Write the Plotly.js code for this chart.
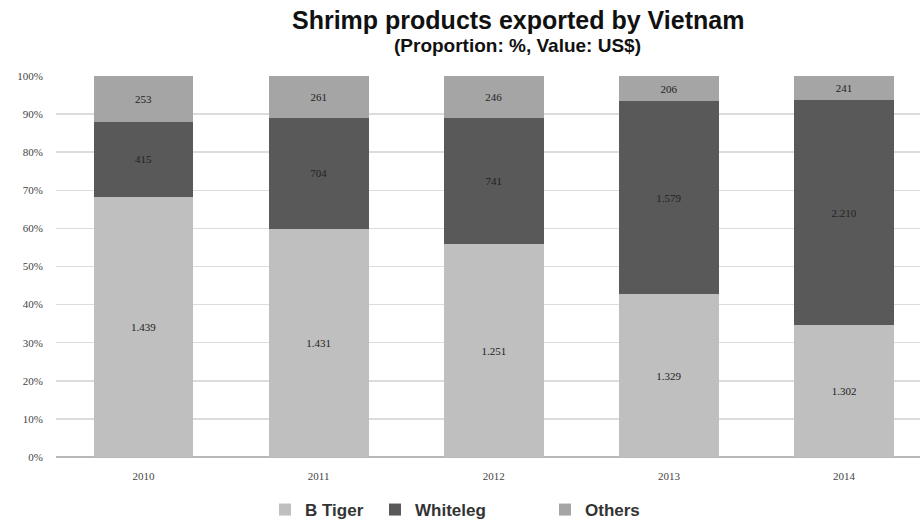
<!DOCTYPE html>
<html>
<head>
<meta charset="utf-8">
<script src="https://cdn.plot.ly/plotly-3.0.1.min.js"></script>
<style>html,body{margin:0;padding:0;background:#fff;}#chart{width:920px;height:521px;}</style>
</head>
<body>
<div id="chart"></div>
<script>
const years = ['2010', '2011', '2012', '2013', '2014'];
const bTiger = [1439, 1431, 1251, 1329, 1302];
const whiteleg = [415, 704, 741, 1579, 2210];
const others = [253, 261, 246, 206, 241];
const seriesNames = ['B Tiger', 'Whiteleg', 'Others'];
const seriesColors = ['#bfbfbf', '#595959', '#a5a5a5'];

function fmt(v) {
  const s = String(v);
  return s.length > 3 ? s.slice(0, s.length - 3) + '.' + s.slice(s.length - 3) : s;
}

const serif = 'Liberation Serif, DejaVu Serif, serif';
const legendIds = ['legend', 'legend2', 'legend3'];
const traces = [bTiger, whiteleg, others].map((vals, i) => ({
  type: 'bar',
  name: seriesNames[i],
  legend: legendIds[i],
  x: years,
  y: vals,
  text: vals.map(fmt),
  textposition: 'inside',
  insidetextanchor: 'middle',
  textangle: 0,
  textfont: {family: serif, size: 11, color: '#222'},
  marker: {color: seriesColors[i], line: {width: 0}},
  hoverinfo: 'skip'
}));

const legendFont = {family: 'Liberation Sans, Arial, sans-serif', size: 17, color: '#333', weight: 'bold'};
function leg(xp) {
  return {orientation: 'h', x: (xp - 56) / 864, xanchor: 'left', y: (457 - 510) / 381, yanchor: 'middle',
    font: legendFont, itemwidth: 30, bgcolor: 'rgba(0,0,0,0)'};
}

const layout = {
  width: 920, height: 521,
  margin: {l: 56, r: 0, t: 76, b: 64, autoexpand: false},
  paper_bgcolor: '#fff', plot_bgcolor: '#fff',
  barmode: 'stack', barnorm: 'percent', bargap: 0.43,
  showlegend: true,
  legend: leg(265),
  legend2: leg(375),
  legend3: leg(545),
  xaxis: {type: 'category', range: [-0.5, 4.434], showgrid: false, zeroline: false,
    showline: false, ticks: '', ticklabelstandoff: 11,
    tickfont: {family: serif, size: 11, color: '#444'}, fixedrange: true},
  yaxis: {range: [0, 100], dtick: 10, ticksuffix: '%', showgrid: true, gridcolor: '#dcdcdc', gridwidth: 1.5,
    zeroline: true, zerolinecolor: '#b8b8b8', zerolinewidth: 1.5, showline: false, ticks: '',
    ticklabelstandoff: 12, tickfont: {family: serif, size: 11, color: '#444'}, fixedrange: true},
  annotations: [
    {text: '<b>Shrimp products exported by Vietnam</b>', xref: 'paper', yref: 'paper',
     x: (518 - 56) / 864, y: 1, yshift: 56, xanchor: 'center', yanchor: 'middle', showarrow: false,
     font: {family: 'Liberation Sans, Arial, sans-serif', size: 25, color: '#111'}},
    {text: '<b>(Proportion: %, Value: US$)</b>', xref: 'paper', yref: 'paper',
     x: (517 - 56) / 864, y: 1, yshift: 31, xanchor: 'center', yanchor: 'middle', showarrow: false,
     font: {family: 'Liberation Sans, Arial, sans-serif', size: 19, color: '#111'}}
  ]
};

Plotly.newPlot('chart', traces, layout, {displayModeBar: false, staticPlot: true});
</script>
</body>
</html>
